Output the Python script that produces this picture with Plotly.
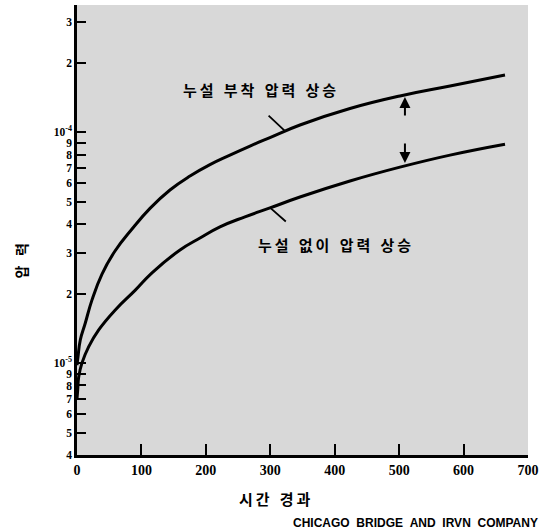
import numpy as np
import plotly.graph_objects as go

# ---- data ----
time_leak = [0, 1.55, 5.1, 12.9, 23.3, 38.8, 59, 85.4, 113.3, 144.3, 175.4, 206.4, 237.4,
             268.5, 299.5, 346.1, 423.7, 501.3, 579, 664.3]
press_leak = [9.8e-6, 1.064e-5, 1.259e-5, 1.492e-5, 1.879e-5, 2.43e-5, 3.06e-5, 3.81e-5,
              4.68e-5, 5.62e-5, 6.46e-5, 7.24e-5, 7.96e-5, 8.71e-5, 9.48e-5, 1.075e-4,
              1.267e-4, 1.436e-4, 1.586e-4, 1.77e-4]

time_noleak = [0, 1.09, 2.64, 7.76, 18.2, 33.7, 59.4, 90.5, 116.4, 159.9, 190.9, 221.9,
               260.7, 299.5, 346.1, 423.7, 501.3, 579, 664.3]
press_noleak = [7.0e-6, 7.66e-6, 8.71e-6, 1.002e-5, 1.178e-5, 1.393e-5, 1.70e-5, 2.07e-5,
                2.46e-5, 3.09e-5, 3.48e-5, 3.89e-5, 4.30e-5, 4.70e-5, 5.24e-5, 6.15e-5,
                7.06e-5, 7.96e-5, 8.87e-5]

x_ticks = [0, 100, 200, 300, 400, 500, 600, 700]
y_tickvals = [4e-6, 5e-6, 6e-6, 7e-6, 8e-6, 9e-6, 1e-5, 2e-5, 3e-5, 4e-5, 5e-5, 6e-5,
              7e-5, 8e-5, 9e-5, 1e-4, 2e-4, 3e-4]
y_ticktext = ["4", "5", "6", "7", "8", "9", "10<sup>-5</sup>", "2", "3", "4", "5", "6",
              "7", "8", "9", "10<sup>-4</sup>", "2", "3"]

TS = "\u2009"
WS = "\u00a0\u00a0\u00a0"
label_leak = WS.join(TS.join(w) for w in ["누설", "부착", "압력", "상승"])
label_noleak = WS.join(TS.join(w) for w in ["누설", "없이", "압력", "상승"])
x_title = WS.join(TS.join(w) for w in ["시간", "경과"])
y_title = "압\u00a0\u00a0\u00a0력"
credit = "CHICAGO\u00a0\u00a0BRIDGE\u00a0\u00a0AND\u00a0\u00a0IRVN\u00a0\u00a0COMPANY"

# ---- figure ----
fig = go.Figure()
for xs, ys in [(time_leak, press_leak), (time_noleak, press_noleak)]:
    fig.add_trace(go.Scatter(x=xs, y=ys, mode="lines",
                             line=dict(color="black", width=3, shape="spline", smoothing=1.3),
                             hoverinfo="skip", showlegend=False))

def curve_log(xs, ys, xv):
    return float(np.interp(xv, xs, np.log10(ys)))

ko_font = dict(family="Noto Sans CJK KR", size=15, color="black", weight="bold")
num_font = dict(family="Liberation Serif", size=14, color="black", weight="bold")

ann = []
# curve labels
ann.append(dict(x=284, y=-3.817, xref="x", yref="y", text=label_leak, showarrow=False,
                font=ko_font, xanchor="center", yanchor="middle"))
ann.append(dict(x=400, y=-4.488, xref="x", yref="y", text=label_noleak, showarrow=False,
                font=ko_font, xanchor="center", yanchor="middle"))
# leader lines
ann.append(dict(x=323, y=curve_log(time_leak, press_leak, 323), xref="x", yref="y", text="",
                showarrow=True, arrowhead=0, arrowwidth=1.8, arrowcolor="black", ax=-18, ay=-17))
ann.append(dict(x=300, y=curve_log(time_noleak, press_noleak, 300), xref="x", yref="y", text="",
                showarrow=True, arrowhead=0, arrowwidth=1.8, arrowcolor="black", ax=17, ay=15))
# difference arrows
ann.append(dict(x=509, y=curve_log(time_leak, press_leak, 509), xref="x", yref="y", text="",
                showarrow=True, arrowhead=2, arrowsize=1.1, arrowwidth=2, arrowcolor="black",
                ax=0, ay=22, standoff=2))
ann.append(dict(x=509, y=curve_log(time_noleak, press_noleak, 509), xref="x", yref="y", text="",
                showarrow=True, arrowhead=2, arrowsize=1.1, arrowwidth=2, arrowcolor="black",
                ax=0, ay=-24, standoff=3))
# axis titles
ann.append(dict(x=0.439, y=0, xref="paper", yref="paper", yshift=-43, text=x_title,
                showarrow=False, font=ko_font, xanchor="center", yanchor="middle"))
ann.append(dict(x=0, y=0.43, xref="paper", yref="paper", xshift=-57, text=y_title,
                showarrow=False, textangle=-90, font=dict(ko_font, size=14),
                xanchor="center", yanchor="middle"))
ann.append(dict(x=1, y=0, xref="paper", yref="paper", xshift=12, yshift=-68, text=credit,
                showarrow=False, font=dict(family="Liberation Sans", size=12, color="black",
                                           weight="bold"),
                xanchor="right", yanchor="middle"))

fig.update_layout(
    width=548, height=529,
    margin=dict(l=77, r=20, t=5, b=74),
    paper_bgcolor="white", plot_bgcolor="#d8d8d8",
    showlegend=False, annotations=ann,
)
fig.update_xaxes(range=[0, 700], tickvals=x_ticks, ticks="inside", ticklen=11, tickwidth=2,
                 tickcolor="black", showline=True, linecolor="black", linewidth=2.5,
                 showgrid=False, zeroline=False, tickfont=num_font)
fig.update_yaxes(type="log", range=[-5.398, -3.449], tickvals=y_tickvals, ticktext=y_ticktext,
                 ticks="inside", ticklen=9, tickwidth=2, tickcolor="black", showline=True,
                 linecolor="black", linewidth=2.5, showgrid=False, zeroline=False,
                 tickfont=dict(num_font, size=11.5))

fig.write_html("out.html")
